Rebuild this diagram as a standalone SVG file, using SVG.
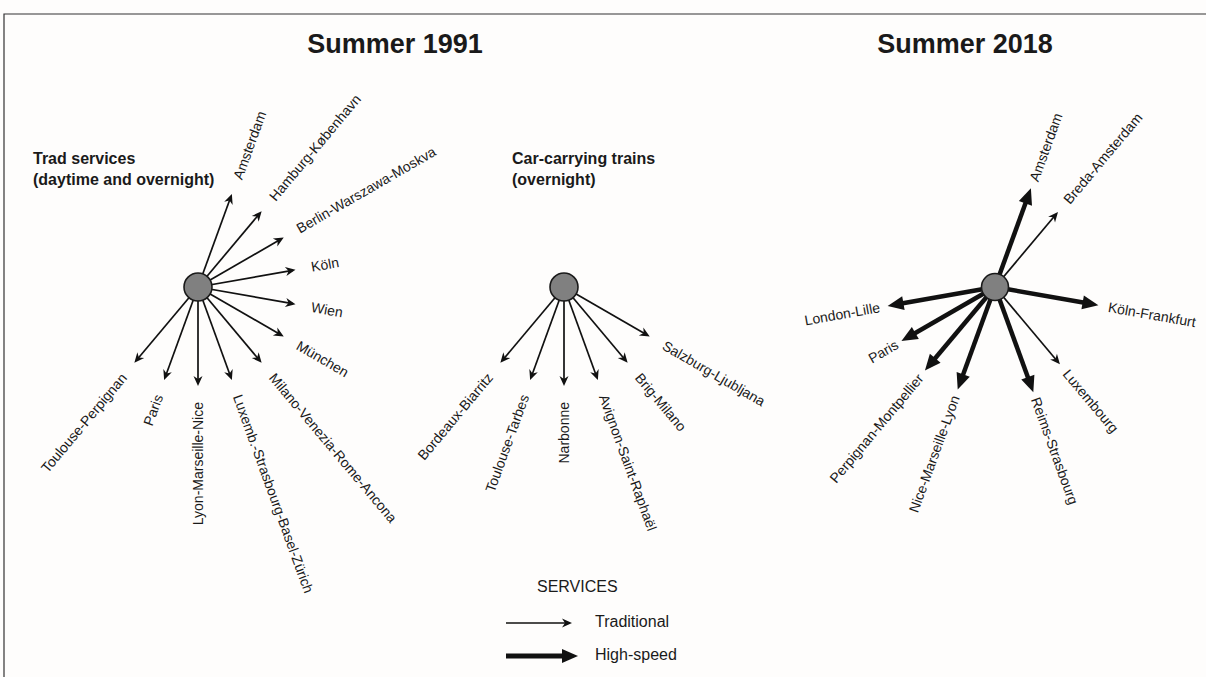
<svg xmlns="http://www.w3.org/2000/svg" width="1206" height="677" viewBox="0 0 1206 677">
<style>
.t{font-family:"Liberation Sans",Arial,sans-serif;fill:#1a1a1a}
.title{font-size:27px;font-weight:bold;text-anchor:middle}
.sub{font-size:16px;font-weight:bold}
.lab{font-size:14px}
.r{text-anchor:start}
.l{text-anchor:end}
.leg{font-size:16px}
.thin{stroke:#111;stroke-width:1.7;fill:none;marker-end:url(#hThin)}
.thick{stroke:#111;stroke-width:4.5;fill:none;marker-end:url(#hThick)}
.hub{fill:#808080;stroke:#1a1a1a;stroke-width:1.6}
</style>
<defs>
<marker id="hThin" viewBox="0 -6 12 12" markerWidth="12" markerHeight="12" refX="7" refY="0" orient="auto" markerUnits="userSpaceOnUse" overflow="visible">
<path d="M0,-4.5 L10,0 L0,4.5 L3,0 Z" fill="#111"/>
</marker>
<marker id="hThick" viewBox="0 -8 18 16" markerWidth="18" markerHeight="16" refX="2" refY="0" orient="auto" markerUnits="userSpaceOnUse" overflow="visible">
<path d="M0,-7 L16,0 L0,7 Z" fill="#111"/>
</marker>
</defs>
<rect x="0" y="0" width="1206" height="677" fill="#fefdfc"/>
<g id="frame" stroke="#333" stroke-width="1.2" fill="none">
<path d="M4,677 V14 H1206"/>
</g>

<g id="titles" class="t">
<text class="t title" x="395" y="53">Summer 1991</text>
<text class="t title" x="965" y="53">Summer 2018</text>
<text class="t sub" x="33" y="164">Trad services</text>
<text class="t sub" x="33" y="185">(daytime and overnight)</text>
<text class="t sub" x="512" y="164">Car-carrying trains</text>
<text class="t sub" x="512" y="185">(overnight)</text>
</g>

<g id="connectors">
<!-- 1991 trad -->
<g transform="translate(198,287)">
<line class="thin" x1="0" y1="0" x2="96" y2="0" transform="rotate(-70)"/>
<line class="thin" x1="0" y1="0" x2="96" y2="0" transform="rotate(-50)"/>
<line class="thin" x1="0" y1="0" x2="96" y2="0" transform="rotate(-30)"/>
<line class="thin" x1="0" y1="0" x2="96" y2="0" transform="rotate(-10)"/>
<line class="thin" x1="0" y1="0" x2="96" y2="0" transform="rotate(10)"/>
<line class="thin" x1="0" y1="0" x2="96" y2="0" transform="rotate(30)"/>
<line class="thin" x1="0" y1="0" x2="96" y2="0" transform="rotate(50)"/>
<line class="thin" x1="0" y1="0" x2="96" y2="0" transform="rotate(70)"/>
<line class="thin" x1="0" y1="0" x2="96" y2="0" transform="rotate(90)"/>
<line class="thin" x1="0" y1="0" x2="96" y2="0" transform="rotate(110)"/>
<line class="thin" x1="0" y1="0" x2="96" y2="0" transform="rotate(130)"/>
</g>
<!-- 1991 car-carrying -->
<g transform="translate(564,287)">
<line class="thin" x1="0" y1="0" x2="96" y2="0" transform="rotate(130)"/>
<line class="thin" x1="0" y1="0" x2="96" y2="0" transform="rotate(110)"/>
<line class="thin" x1="0" y1="0" x2="96" y2="0" transform="rotate(90)"/>
<line class="thin" x1="0" y1="0" x2="96" y2="0" transform="rotate(70)"/>
<line class="thin" x1="0" y1="0" x2="96" y2="0" transform="rotate(50)"/>
<line class="thin" x1="0" y1="0" x2="96" y2="0" transform="rotate(30)"/>
</g>
<!-- 2018 -->
<g transform="translate(995,287)">
<line class="thick" x1="0" y1="0" x2="91" y2="0" transform="rotate(-70)"/>
<line class="thin" x1="0" y1="0" x2="95" y2="0" transform="rotate(-50)"/>
<line class="thick" x1="0" y1="0" x2="91" y2="0" transform="rotate(10)"/>
<line class="thin" x1="0" y1="0" x2="98" y2="0" transform="rotate(50)"/>
<line class="thick" x1="0" y1="0" x2="98" y2="0" transform="rotate(70)"/>
<line class="thick" x1="0" y1="0" x2="95" y2="0" transform="rotate(110)"/>
<line class="thick" x1="0" y1="0" x2="95" y2="0" transform="rotate(130)"/>
<line class="thick" x1="0" y1="0" x2="94" y2="0" transform="rotate(150)"/>
<line class="thick" x1="0" y1="0" x2="95" y2="0" transform="rotate(170)"/>
</g>
<!-- legend arrows -->
<line class="thin" x1="506" y1="623" x2="569" y2="623" style="stroke-width:1.4"/>
<line class="thick" x1="506" y1="656" x2="564" y2="656" style="stroke-width:5"/>
</g>

<g id="hub-1991-trad"><circle class="hub" cx="198" cy="287" r="14"/></g>
<g id="hub-1991-car"><circle class="hub" cx="564" cy="287" r="14"/></g>
<g id="hub-2018"><circle class="hub" cx="995" cy="287" r="13.5"/></g>

<g id="labels-1991-trad" class="t lab">
<g id="n-amsterdam-91"><text class="t lab r" dy="0.35em" transform="translate(198,287) rotate(-70) translate(115,0)">Amsterdam</text></g>
<g id="n-hamburg"><text class="t lab r" dy="0.35em" transform="translate(198,287) rotate(-50) translate(115,0)">Hamburg-København</text></g>
<g id="n-berlin"><text class="t lab r" dy="0.35em" transform="translate(198,287) rotate(-30) translate(115,0)">Berlin-Warszawa-Moskva</text></g>
<g id="n-koln"><text class="t lab r" dy="0.35em" transform="translate(198,287) rotate(-10) translate(115,0)">Köln</text></g>
<g id="n-wien"><text class="t lab r" dy="0.35em" transform="translate(198,287) rotate(10) translate(115,0)">Wien</text></g>
<g id="n-munchen"><text class="t lab r" dy="0.35em" transform="translate(198,287) rotate(30) translate(115,0)">München</text></g>
<g id="n-milano"><text class="t lab r" dy="0.35em" transform="translate(198,287) rotate(50) translate(115,0)">Milano-Venezia-Rome-Ancona</text></g>
<g id="n-luxemb"><text class="t lab r" dy="0.35em" transform="translate(198,287) rotate(70) translate(115,0)">Luxemb.-Strasbourg-Basel-Zürich</text></g>
<g id="n-lyon"><text class="t lab l" dy="0.35em" transform="translate(198,287) rotate(90) translate(115,0) rotate(180)">Lyon-Marseille-Nice</text></g>
<g id="n-paris-91"><text class="t lab l" dy="0.35em" transform="translate(198,287) rotate(110) translate(115,0) rotate(180)">Paris</text></g>
<g id="n-toulouse-perpignan"><text class="t lab l" dy="0.35em" transform="translate(198,287) rotate(130) translate(115,0) rotate(180)">Toulouse-Perpignan</text></g>
</g>

<g id="labels-1991-car" class="t lab">
<g id="n-bordeaux"><text class="t lab l" dy="0.35em" transform="translate(564,287) rotate(130) translate(115,0) rotate(180)">Bordeaux-Biarritz</text></g>
<g id="n-toulouse-tarbes"><text class="t lab l" dy="0.35em" transform="translate(564,287) rotate(110) translate(115,0) rotate(180)">Toulouse-Tarbes</text></g>
<g id="n-narbonne"><text class="t lab l" dy="0.35em" transform="translate(564,287) rotate(90) translate(115,0) rotate(180)">Narbonne</text></g>
<g id="n-avignon"><text class="t lab r" dy="0.35em" transform="translate(564,287) rotate(70) translate(115,0)">Avignon-Saint-Raphaël</text></g>
<g id="n-brig"><text class="t lab r" dy="0.35em" transform="translate(564,287) rotate(50) translate(115,0)">Brig-Milano</text></g>
<g id="n-salzburg"><text class="t lab r" dy="0.35em" transform="translate(564,287) rotate(30) translate(115,0)">Salzburg-Ljubljana</text></g>
</g>

<g id="labels-2018" class="t lab">
<g id="n-amsterdam-18"><text class="t lab r" dy="0.35em" transform="translate(995,287) rotate(-70) translate(113,0)">Amsterdam</text></g>
<g id="n-breda"><text class="t lab r" dy="0.35em" transform="translate(995,287) rotate(-50) translate(111,0)">Breda-Amsterdam</text></g>
<g id="n-koln-frankfurt"><text class="t lab r" dy="0.35em" transform="translate(995,287) rotate(10) translate(115,0)">Köln-Frankfurt</text></g>
<g id="n-luxembourg"><text class="t lab r" dy="0.35em" transform="translate(995,287) rotate(50) translate(110,0)">Luxembourg</text></g>
<g id="n-reims"><text class="t lab r" dy="0.35em" transform="translate(995,287) rotate(70) translate(118,0)">Reims-Strasbourg</text></g>
<g id="n-nice"><text class="t lab l" dy="0.35em" transform="translate(995,287) rotate(110) translate(116,0) rotate(180)">Nice-Marseille-Lyon</text></g>
<g id="n-perpignan"><text class="t lab l" dy="0.35em" transform="translate(995,287) rotate(130) translate(116,0) rotate(180)">Perpignan-Montpellier</text></g>
<g id="n-paris-18"><text class="t lab l" dy="0.35em" transform="translate(995,287) rotate(150) translate(113,0) rotate(180)">Paris</text></g>
<g id="n-london"><text class="t lab l" dy="0.35em" transform="translate(995,287) rotate(170) translate(117,0) rotate(180)">London-Lille</text></g>
</g>

<g id="legend" class="t leg">
<text class="t leg" x="537" y="592">SERVICES</text>
<text class="t leg" x="595" y="627">Traditional</text>
<text class="t leg" x="595" y="660">High-speed</text>
</g>
</svg>
